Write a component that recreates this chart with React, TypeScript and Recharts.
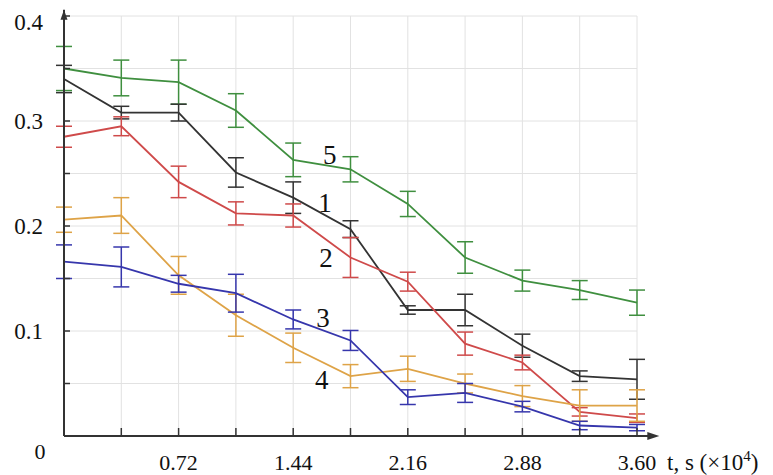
import React from "react"
import {
  LineChart,
  Line,
  XAxis,
  YAxis,
  CartesianGrid,
  ErrorBar,
  ReferenceDot,
  ReferenceLine,
  Label,
} from "recharts"

if (typeof document !== "undefined") document.body.style.margin = "0"

const times = [0, 0.36, 0.72, 1.08, 1.44, 1.8, 2.16, 2.52, 2.88, 3.24, 3.6]

const curve5 = [0.350, 0.341, 0.337, 0.310, 0.263, 0.254, 0.221, 0.170, 0.148, 0.139, 0.127]
const err5 = [0.021, 0.017, 0.021, 0.016, 0.016, 0.012, 0.012, 0.015, 0.010, 0.009, 0.012]
const curve1 = [0.340, 0.308, 0.308, 0.251, 0.227, 0.197, 0.120, 0.120, 0.086, 0.057, 0.054]
const err1 = [0.013, 0.006, 0.008, 0.014, 0.015, 0.008, 0.004, 0.015, 0.011, 0.005, 0.019]
const curve2 = [0.285, 0.295, 0.242, 0.212, 0.210, 0.170, 0.147, 0.088, 0.070, 0.023, 0.017]
const err2 = [0.010, 0.009, 0.015, 0.011, 0.011, 0.019, 0.009, 0.011, 0.007, 0.004, 0.004]
const curve4 = [0.206, 0.210, 0.153, 0.115, 0.084, 0.057, 0.064, 0.050, 0.038, 0.029, 0.029]
const err4 = [0.012, 0.017, 0.018, 0.020, 0.014, 0.011, 0.012, 0.009, 0.010, 0.015, 0.015]
const curve3 = [0.166, 0.161, 0.145, 0.136, 0.111, 0.091, 0.037, 0.041, 0.028, 0.010, 0.008]
const err3 = [0.016, 0.019, 0.008, 0.018, 0.009, 0.0095, 0.007, 0.009, 0.005, 0.004, 0.003]

const xTicks = times
const xLabels = [0.72, 1.44, 2.16, 2.88, 3.6]
const yTicks = [0, 0.05, 0.1, 0.15, 0.2, 0.25, 0.3, 0.35, 0.4]
const yLabels = [0, 0.1, 0.2, 0.3, 0.4]

// curve number labels, placed in data coordinates
const curveNames = [
  { name: "5", t: 1.67, v: 0.268 },
  { name: "1", t: 1.64, v: 0.222 },
  { name: "2", t: 1.646, v: 0.17 },
  { name: "3", t: 1.627, v: 0.112 },
  { name: "4", t: 1.62, v: 0.053 },
]

const series = [
  { key: "c5", values: curve5, errors: err5, color: "#3f8f3f" },
  { key: "c1", values: curve1, errors: err1, color: "#333333" },
  { key: "c2", values: curve2, errors: err2, color: "#cf4a4a" },
  { key: "c4", values: curve4, errors: err4, color: "#dea347" },
  { key: "c3", values: curve3, errors: err3, color: "#3636ac" },
]

const data = times.map((t, i) => {
  const row: Record<string, number> = { t }
  series.forEach((s) => {
    row[s.key] = s.values[i]
    row[s.key + "e"] = s.errors[i]
  })
  return row
})

const serif = { fontFamily: '"Liberation Serif", "Times New Roman", "DejaVu Serif", serif' }
const axisColor = "#333"

function XTick(props: any) {
  const { x, y, payload } = props
  const v = payload.value
  const show = xLabels.some((l) => Math.abs(l - v) < 1e-6)
  return (
    <g>
      {v > 0 && <line x1={x} x2={x} y1={y} y2={y - 8} stroke={axisColor} strokeWidth={1.5} />}
      {show && (
        <text x={x} y={y + 34} textAnchor="middle" style={serif} fontSize={22} fill="#111">
          {v.toFixed(2)}
        </text>
      )}
    </g>
  )
}

function YTick(props: any) {
  const { x, y, payload } = props
  const v = payload.value
  const show = yLabels.some((l) => Math.abs(l - v) < 1e-6)
  if (v === 0) {
    return (
      <text x={x - 24} y={y + 23} textAnchor="middle" style={serif} fontSize={22} fill="#111">
        0
      </text>
    )
  }
  return (
    <g>
      <line x1={x} x2={x + 6} y1={y} y2={y} stroke={axisColor} strokeWidth={1.5} />
      {show && (
        <text x={x - 21} y={y + (v === 0.4 ? 14 : 8)} textAnchor="end" style={serif} fontSize={23} fill="#111">
          {v.toFixed(1)}
        </text>
      )}
    </g>
  )
}

const AxisTitle = (props: any) => {
  const { viewBox } = props
  const x = viewBox.x + viewBox.width + 30
  const y = viewBox.y + 34
  return (
    <text x={x} y={y} style={serif} fontSize={23} fill="#111">
      t, s (×10
      <tspan dy={-9} fontSize={15}>4</tspan>
      <tspan dy={9}>)</tspan>
    </text>
  )
}

const ArrowRight = (props: any) => {
  const { cx, cy } = props
  return <path d={`M${cx} ${cy} L${cx - 12} ${cy - 4} L${cx - 12} ${cy + 4} Z`} fill={axisColor} />
}

const ArrowUp = (props: any) => {
  const { cx, cy } = props
  return <path d={`M${cx} ${cy} L${cx - 3.5} ${cy + 10} L${cx + 3.5} ${cy + 10} Z`} fill={axisColor} />
}

const CurveName = (name: string) => (props: any) => {
  const { cx, cy } = props
  return (
    <text x={cx} y={cy + 9} textAnchor="middle" style={serif} fontSize={27} fill="#111">
      {name}
    </text>
  )
}

export default function App() {
  return (
    <LineChart
      width={773}
      height={475}
      data={data}
      margin={{ top: 16, right: 136, bottom: 0, left: 0 }}
      style={{ background: "#fff" }}
    >
      <CartesianGrid stroke="#e2e2e2" strokeWidth={1} />
      <XAxis
        dataKey="t"
        type="number"
        domain={[0, 3.6]}
        ticks={xTicks}
        height={39}
        tickSize={0}
        tickMargin={0}
        tickLine={false}
        tick={<XTick />}
        axisLine={{ stroke: axisColor, strokeWidth: 2 }}
        interval={0}
      >
        <Label content={<AxisTitle />} />
      </XAxis>
      <YAxis
        type="number"
        domain={[0, 0.4]}
        ticks={yTicks}
        width={64}
        tickSize={0}
        tickMargin={0}
        tickLine={false}
        tick={<YTick />}
        axisLine={{ stroke: axisColor, strokeWidth: 2 }}
        interval={0}
      />
      {series.map((s) => (
        <Line
          key={s.key}
          dataKey={s.key}
          type="linear"
          stroke={s.color}
          strokeWidth={1.8}
          dot={false}
          activeDot={false}
          isAnimationActive={false}
        >
          <ErrorBar dataKey={s.key + "e"} direction="y" width={8} stroke={s.color} strokeWidth={1.5} isAnimationActive={false} />
        </Line>
      ))}
      <ReferenceLine
        segment={[{ x: 3.6, y: 0 }, { x: 3.72, y: 0 }]}
        stroke={axisColor}
        strokeWidth={2}
        ifOverflow="visible"
      />
      <ReferenceLine
        segment={[{ x: 0, y: 0.4 }, { x: 0, y: 0.406 }]}
        stroke={axisColor}
        strokeWidth={2}
        ifOverflow="visible"
      />
      <ReferenceDot x={3.74} y={0} r={0} ifOverflow="visible" shape={ArrowRight} />
      <ReferenceDot x={0} y={0.406} r={0} ifOverflow="visible" shape={ArrowUp} />
      {curveNames.map((c) => (
        <ReferenceDot key={c.name} x={c.t} y={c.v} r={0} ifOverflow="visible" shape={CurveName(c.name)} />
      ))}
    </LineChart>
  )
}
